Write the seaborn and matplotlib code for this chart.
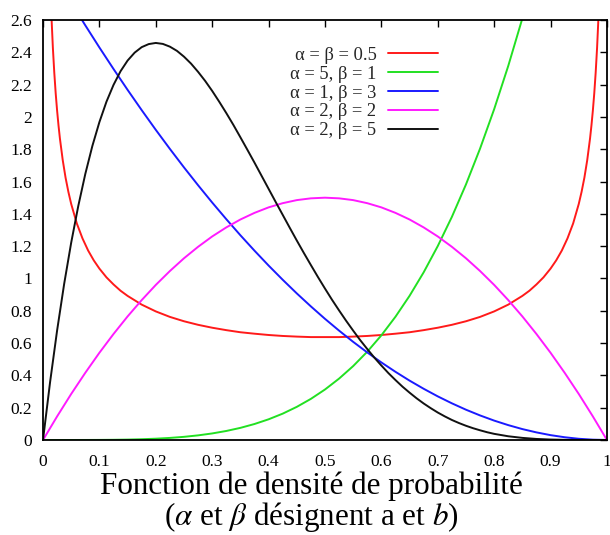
import numpy as np
import pandas as pd
import matplotlib
matplotlib.use("Agg")
import matplotlib.pyplot as plt
import seaborn as sns
from matplotlib.ticker import FuncFormatter, MultipleLocator

# values
red_x = [0.015, 0.0175, 0.02, 0.0225, 0.025, 0.0275, 0.03, 0.035, 0.04, 0.045, 0.05,
         0.06, 0.07, 0.08, 0.09, 0.1, 0.1125, 0.125, 0.1375, 0.15, 0.175, 0.2, 0.225,
         0.25, 0.275, 0.3, 0.325, 0.35, 0.375, 0.4, 0.425, 0.45, 0.475, 0.5,
         0.525, 0.55, 0.575, 0.6, 0.625, 0.65, 0.675, 0.7, 0.725, 0.75, 0.775, 0.8,
         0.825, 0.85, 0.8625, 0.875, 0.8875, 0.9, 0.91, 0.92, 0.93, 0.94, 0.95, 0.955,
         0.96, 0.965, 0.97, 0.9725, 0.975, 0.9775, 0.98, 0.9825, 0.985]
red_y = [2.62, 2.428, 2.274, 2.146, 2.039, 1.947, 1.866, 1.732, 1.624, 1.536, 1.461,
         1.340, 1.248, 1.173, 1.112, 1.061, 1.007, 0.963, 0.924, 0.892, 0.838, 0.796, 0.762,
         0.735, 0.713, 0.695, 0.680, 0.667, 0.658, 0.650, 0.644, 0.640, 0.637, 0.637,
         0.637, 0.640, 0.644, 0.650, 0.658, 0.667, 0.680, 0.695, 0.713, 0.735, 0.762, 0.796,
         0.838, 0.892, 0.924, 0.963, 1.007, 1.061, 1.112, 1.173, 1.248, 1.340, 1.461, 1.536,
         1.624, 1.732, 1.866, 1.947, 2.039, 2.146, 2.274, 2.428, 2.62]

grid_x = [0, 0.025, 0.05, 0.075, 0.1, 0.125, 0.15, 0.175, 0.2, 0.225, 0.25, 0.275, 0.3,
          0.325, 0.35, 0.375, 0.4, 0.425, 0.45, 0.475, 0.5, 0.525, 0.55, 0.575, 0.6,
          0.625, 0.65, 0.675, 0.7, 0.725, 0.75, 0.775, 0.8, 0.825, 0.85, 0.875, 0.9,
          0.925, 0.95, 0.975, 1]

green_x = grid_x[:36]
green_y = [0, 0, 0.00003, 0.00016, 0.0005, 0.0012, 0.0025, 0.0047, 0.008, 0.0128, 0.0195,
           0.0286, 0.0405, 0.0558, 0.075, 0.0989, 0.128, 0.163, 0.205, 0.2545, 0.3125,
           0.380, 0.4575, 0.5466, 0.648, 0.763, 0.8925, 1.038, 1.2005, 1.381, 1.582,
           1.804, 2.048, 2.316, 2.610, 2.931]

blue_y = [3.0, 2.852, 2.7075, 2.567, 2.43, 2.297, 2.1675, 2.042, 1.92, 1.802, 1.6875,
          1.577, 1.47, 1.367, 1.2675, 1.172, 1.08, 0.992, 0.9075, 0.827, 0.75, 0.677,
          0.6075, 0.542, 0.48, 0.422, 0.3675, 0.317, 0.27, 0.227, 0.1875, 0.152, 0.12,
          0.092, 0.0675, 0.047, 0.03, 0.017, 0.0075, 0.002, 0]

magenta_y = [0, 0.146, 0.285, 0.416, 0.54, 0.656, 0.765, 0.866, 0.96, 1.046, 1.125,
             1.196, 1.26, 1.316, 1.365, 1.406, 1.44, 1.466, 1.485, 1.496, 1.5, 1.496,
             1.485, 1.466, 1.44, 1.406, 1.365, 1.316, 1.26, 1.196, 1.125, 1.046, 0.96,
             0.866, 0.765, 0.656, 0.54, 0.416, 0.285, 0.146, 0]

black_x = [0, 0.0125, 0.025, 0.0375, 0.05, 0.0625, 0.075, 0.0875, 0.1, 0.1125, 0.125,
           0.1375, 0.15, 0.1625, 0.175, 0.1875, 0.2, 0.2125, 0.225, 0.2375, 0.25, 0.2625,
           0.275, 0.2875, 0.3, 0.3125, 0.325, 0.3375, 0.35, 0.3625, 0.375, 0.3875, 0.4,
           0.4125, 0.425, 0.4375, 0.45, 0.4625, 0.475, 0.4875, 0.5, 0.5125, 0.525, 0.5375,
           0.55, 0.5625, 0.575, 0.5875, 0.6, 0.6125, 0.625, 0.6375, 0.65, 0.6625, 0.675,
           0.6875, 0.7, 0.7125, 0.725, 0.7375, 0.75, 0.7625, 0.775, 0.7875, 0.8, 0.825,
           0.85, 0.875, 0.9, 0.925, 0.95, 0.975, 1]
black_y = [0, 0.357, 0.678, 0.966, 1.222, 1.448, 1.647, 1.820, 1.968, 2.094, 2.198,
           2.283, 2.349, 2.398, 2.432, 2.451, 2.458, 2.452, 2.435, 2.409, 2.373, 2.330,
           2.279, 2.223, 2.161, 2.094, 2.024, 1.951, 1.874, 1.796, 1.717, 1.636, 1.555,
           1.474, 1.394, 1.314, 1.235, 1.158, 1.083, 1.009, 0.9375, 0.868, 0.802, 0.738,
           0.677, 0.618, 0.563, 0.510, 0.461, 0.414, 0.371, 0.330, 0.293, 0.258, 0.226,
           0.197, 0.170, 0.146, 0.124, 0.105, 0.088, 0.073, 0.060, 0.048, 0.038, 0.023,
           0.013, 0.0064, 0.0027, 0.0009, 0.0002, 0, 0]

curves = [
    ("α = β = 0.5", red_x, red_y, "#ff1a1a"),
    ("α = 5, β = 1", green_x, green_y, "#22e022"),
    ("α = 1, β = 3", grid_x, blue_y, "#1a1aff"),
    ("α = 2, β = 2", grid_x, magenta_y, "#ff1aff"),
    ("α = 2, β = 5", black_x, black_y, "#111111"),
]

sns.set_theme(style="white")
plt.rcParams["font.family"] = ["Liberation Serif", "DejaVu Serif"]
plt.rcParams["mathtext.fontset"] = "stix"

fig = plt.figure(figsize=(6.1, 5.35), dpi=100)
ax = fig.add_axes([0.0705, 0.1776, 0.9245, 0.785])

for label, xs, ys, col in curves:
    df = pd.DataFrame({"x": xs, "y": ys})
    sns.lineplot(data=df, x="x", y="y", ax=ax, color=col, linewidth=1.4,
                 label=label, estimator=None, sort=False)

ax.set_xlim(0, 1)
ax.set_ylim(0, 2.6)
ax.set_xlabel("")
ax.set_ylabel("")
ax.xaxis.set_major_locator(MultipleLocator(0.1))
ax.yaxis.set_major_locator(MultipleLocator(0.2))
fmt = FuncFormatter(lambda v, p: f"{round(v, 2):g}")
ax.xaxis.set_major_formatter(fmt)
ax.yaxis.set_major_formatter(fmt)
ax.tick_params(direction="in", length=5, width=1, color="black", labelsize=12.5,
               top=True, right=True, labelcolor="black")
ax.tick_params(axis="x", pad=10)
ax.tick_params(axis="y", pad=8)
for s in ax.spines.values():
    s.set_color("black")
    s.set_linewidth(1.3)

leg = ax.legend(loc="upper right", bbox_to_anchor=(0.70, 0.936), frameon=False,
                markerfirst=False, fontsize=13.3, handlelength=2.72, handletextpad=0.6,
                labelspacing=0.10, borderpad=0, borderaxespad=0)

fig.text(0.51, 0.0766, "Fonction de densité de probabilité", ha="center",
         va="baseline", fontsize=22.4, color="black")
fig.text(0.51, 0.0185, "($\\alpha$ et $\\beta$ désignent a et $b$)", ha="center",
         va="baseline", fontsize=22.4, color="black")

fig.savefig("out.png", dpi=100)
